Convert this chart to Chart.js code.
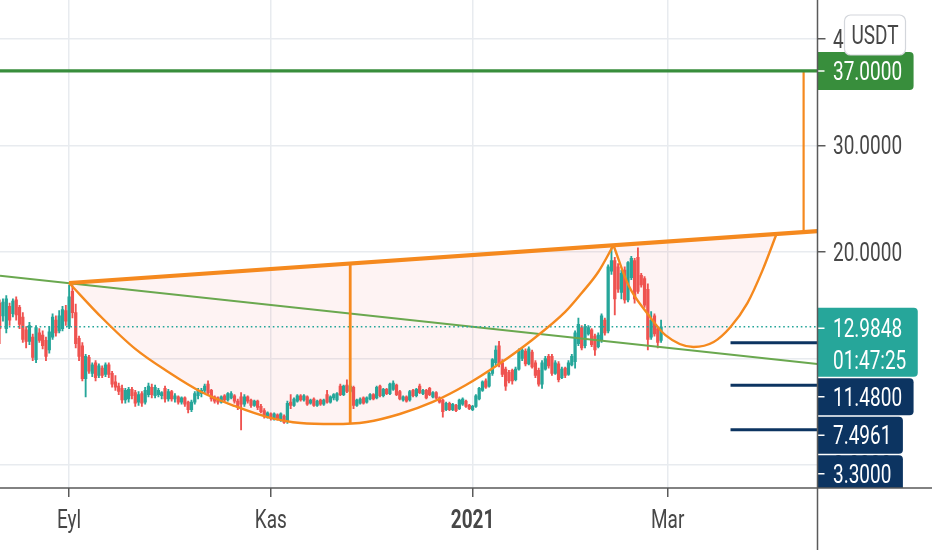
<!DOCTYPE html>
<html>
<head>
<meta charset="utf-8">
<title>Fincan kulp</title>
<script src="https://cdn.jsdelivr.net/npm/chart.js@4.4.1/dist/chart.umd.min.js"></script>
<style>
  html, body { margin: 0; padding: 0; background: #fff; }
  #wrap { position: relative; width: 932px; height: 550px; }
</style>
</head>
<body>
<div id="wrap"><canvas id="chart"></canvas></div>
<script>
// days are counted from 1 Sep 2020 (Eyl), one candle per day
const firstDay = -21;

const opens = [
  15.2,14.0,12.8,14.9,14.2,15.5,14.8,13.9,12.7,11.6,
  12.0,9.9,12.4,12.2,11.7,10.8,12.0,13.6,12.6,12.8,
  14.5,13.0,16.3,14.3,11.9,11.2,8.1,10.1,8.6,9.6,
  8.4,9.1,8.5,9.4,8.6,7.8,7.4,7.2,6.1,6.2,
  7.1,6.8,5.9,6.7,5.9,6.6,7.3,6.5,6.6,6.5,
  7.2,6.2,6.9,6.2,6.4,5.9,6.3,5.9,5.2,5.9,
  6.5,6.7,7.0,7.6,7.0,6.4,6.3,5.9,6.5,6.1,
  6.3,6.5,6.0,6.4,5.7,6.4,6.1,5.6,6.0,5.5,
  5.1,4.5,4.8,4.3,4.7,4.2,4.6,4.1,5.9,5.6,
  6.0,6.5,6.1,6.4,5.8,6.2,5.6,6.1,5.7,6.6,
  5.9,6.3,6.1,7.4,6.6,7.5,6.9,7.3,5.6,5.8,
  6.3,5.9,6.2,6.6,6.3,7.4,6.5,7.1,6.7,7.1,
  7.5,6.9,6.1,6.4,6.1,7.0,6.5,7.4,6.7,7.0,
  7.2,6.4,6.8,6.3,6.1,5.2,5.8,5.2,5.6,5.3,
  5.7,6.0,5.6,5.2,5.5,6.2,7.0,7.9,7.4,8.6,
  9.6,11.2,9.6,9.0,8.7,8.9,8.0,9.0,10.0,10.7,
  9.5,10.6,9.6,8.9,7.6,9.0,10.2,10.2,8.6,9.5,
  8.2,9.1,8.5,9.4,9.7,11.4,12.9,11.2,12.3,12.7,
  12.1,11.1,11.7,13.6,12.6,18.2,19.2,18.6,16.2,18.3,
  15.5,17.6,19.2,19.5,17.8,17.5,16.5,12.0,14.0,12.8,
  11.7
];
const highs = [
  15.5,15.6,15.9,15.2,15.6,15.8,15.0,14.3,13.0,13.4,
  12.3,13.1,12.8,12.6,12.0,13.0,14.2,14.0,14.5,14.9,
  15.0,16.9,16.9,15.1,12.1,11.5,10.4,10.3,9.6,9.8,
  9.5,9.3,9.6,9.6,8.8,8.4,7.7,7.5,7.2,7.3,
  7.3,7.0,6.9,6.9,7.3,7.7,7.6,7.5,7.2,6.9,
  7.4,7.1,7.0,6.7,6.5,6.4,6.4,6.0,6.1,6.9,
  7.2,7.2,7.6,7.9,7.1,6.5,6.4,6.5,6.6,6.8,
  6.9,6.6,6.2,6.8,6.6,6.5,6.2,6.1,6.1,5.7,
  5.3,5.0,4.9,4.9,4.8,4.9,4.7,6.0,6.6,6.3,
  6.6,6.6,6.6,6.5,6.2,6.3,6.1,6.2,6.2,7.0,
  6.5,6.7,6.8,7.6,7.5,8.0,7.6,7.4,6.2,6.3,
  6.4,6.4,6.7,6.7,7.4,7.5,7.2,7.2,7.7,7.9,
  7.6,7.0,6.5,6.5,7.0,7.1,7.2,7.6,7.1,7.1,
  7.3,6.9,6.9,6.4,6.2,5.9,5.9,5.8,5.7,6.2,
  6.3,6.1,5.7,5.6,6.6,7.3,7.9,8.1,8.7,10.0,
  11.2,11.6,9.9,9.2,8.9,9.0,9.2,10.9,11.0,10.9,
  11.1,10.8,9.8,9.1,9.8,10.2,10.4,10.4,9.8,9.7,
  9.2,9.2,9.8,10.4,12.6,13.8,13.1,13.2,13.1,12.8,
  12.3,12.4,14.2,13.8,18.8,20.4,19.5,18.9,18.3,18.6,
  19.1,19.6,19.4,20.4,18.0,17.7,17.0,14.4,14.2,13.0,
  13.6
];
const lows = [
  11.4,13.5,12.4,13.1,13.9,13.6,12.8,11.5,11.0,11.3,
  9.8,9.6,11.5,10.9,9.8,10.5,11.8,12.1,12.4,12.6,
  13.1,12.8,13.8,11.0,9.8,7.9,6.4,8.6,8.3,7.9,
  8.2,8.2,8.3,8.2,7.3,7.0,6.6,5.8,5.8,5.9,
  6.2,5.5,5.6,5.5,5.7,6.4,6.3,6.3,6.4,6.2,
  5.9,6.0,6.0,5.9,5.7,5.7,5.5,4.9,5.0,5.7,
  6.2,6.4,6.8,6.6,6.0,5.8,5.7,5.8,5.9,6.0,
  6.2,5.8,5.2,3.3,5.5,5.8,5.4,5.5,5.2,4.9,
  4.4,4.4,4.2,4.2,4.2,4.1,3.9,3.9,5.3,5.5,
  5.9,6.0,6.0,5.6,5.7,5.5,5.5,5.6,5.6,5.8,
  5.8,6.1,6.0,6.5,6.5,6.8,6.8,5.3,5.5,5.7,
  5.7,5.8,6.1,6.1,6.2,6.4,6.4,6.6,6.6,7.0,
  6.5,6.1,6.0,5.9,6.0,6.4,6.4,6.7,6.6,6.2,
  6.5,6.3,6.2,5.8,4.5,5.1,5.1,5.1,5.0,5.2,
  5.6,5.4,5.2,5.1,5.4,6.1,6.9,7.2,7.3,8.4,
  9.4,9.2,8.3,7.0,7.7,7.6,7.9,8.9,9.8,9.3,
  9.4,9.1,8.2,7.4,7.2,8.9,9.1,8.4,8.5,7.8,
  8.1,8.2,8.4,9.3,9.1,11.2,10.8,11.0,12.2,11.1,
  10.3,11.0,11.5,12.2,12.4,17.9,14.1,16.2,15.6,15.2,
  15.3,17.4,15.2,16.1,16.7,14.8,10.8,11.8,12.1,11.0,
  11.5
];
const closes = [
  12.8,15.3,15.6,13.6,15.4,14.1,13.2,11.8,11.6,13.1,
  10.1,12.9,11.7,11.2,10.2,12.5,13.9,12.4,14.0,14.6,
  13.5,15.8,14.3,11.4,10.2,8.1,10.2,8.8,9.4,8.2,
  9.3,8.4,9.4,8.5,7.6,7.3,6.9,6.1,7.0,7.1,
  6.5,5.8,6.6,5.8,7.0,7.4,6.6,7.3,7.0,6.8,
  6.2,6.9,6.2,6.5,5.9,6.3,5.7,5.2,5.9,6.7,
  7.0,7.0,7.4,6.8,6.2,6.0,5.9,6.4,6.1,6.7,
  6.7,6.0,5.4,5.7,6.4,6.0,5.6,6.0,5.4,5.0,
  4.6,4.9,4.4,4.8,4.3,4.8,4.0,5.8,5.6,6.2,
  6.5,6.1,6.5,5.7,6.1,5.6,6.0,5.7,6.1,5.9,
  6.4,6.6,6.7,6.6,7.4,6.9,7.4,5.6,6.1,6.2,
  5.8,6.3,6.6,6.2,7.3,6.5,7.1,6.7,7.6,7.7,
  6.6,6.2,6.4,6.0,6.9,6.5,7.1,6.8,7.0,6.3,
  6.6,6.8,6.3,5.9,5.0,5.8,5.2,5.7,5.1,6.1,
  6.2,5.5,5.3,5.5,6.5,7.2,7.8,7.3,8.6,9.9,
  10.8,9.5,8.5,7.4,7.9,7.9,9.0,10.7,10.8,9.5,
  10.9,9.2,8.4,7.6,9.6,10.0,9.3,8.6,9.6,8.0,
  9.0,8.4,9.6,10.2,12.4,13.2,11.0,13.0,12.9,11.3,
  10.8,12.2,14.0,12.4,18.6,19.2,15.6,16.5,18.0,15.5,
  19.0,19.4,15.6,16.3,16.9,15.0,11.8,13.6,12.3,11.5,
  12.98
];

// axes
const xMin = -20.9, xMax = 226.3;
const yMin = -2.16, yMax = 43.66;
const yTicks = [0, 10, 20, 30, 40];
const monthDays = [0, 61, 122, 181];
const monthLabels = ['Eyl', 'Kas', '2021', 'Mar'];

// drawings
const rimDays = [0, 226.3];
const rimValues = [17.09, 21.95];
const trendDays = [-20.9, 226.3];
const trendValues = [17.76, 9.48];
const cupDays = [0, 10, 20, 30, 40, 50, 60, 70, 80, 90, 100, 110, 120, 130, 140, 150, 155, 160, 164.6];
const cupValues = [17.09, 13.8, 10.9, 8.73, 6.85, 5.54, 4.5, 3.94, 3.85, 4.04, 4.79, 5.92, 7.51, 9.48, 11.74, 14.37, 16.15, 18.12, 20.63];
const handleDays = [164.6, 169.1, 175.2, 180.3, 188.8, 194.9, 200, 205.1, 209.7, 213.9];
const handleValues = [20.63, 16.9, 14.08, 12.2, 11.08, 11.55, 12.96, 15.2, 18.3, 21.69];
const depthDays = [85, 85];
const depthValues = [18.92, 3.88];
const moveDays = [222.1, 222.1];
const moveValues = [37, 21.86];
const targetPrice = 37;
const lastPrice = 12.9848;
const countdown = '01:47:25';
const levelDays = [200, 226.3];
const levels = [11.48, 7.4961, 3.3];

const UP = '#26a69a', DOWN = '#ef5350', ORANGE = '#f5891e', NAVY = '#0c3461', GREEN = '#388e3c';
const TEXT = '#474747';

function pts(days, values) {
  return days.map((d, i) => ({ x: d, y: values[i] }));
}
function xMinMax() { return [xMin, xMax]; }

const candleColors = opens.map((o, i) => closes[i] >= o ? UP : DOWN);
const wickData = lows.map((l, i) => ({ x: firstDay + i, y: [l, highs[i]] }));
const bodyData = opens.map((o, i) => ({ x: firstDay + i, y: [o, closes[i]] }));

function lineSet(data, color, width, order, extra) {
  return Object.assign({
    type: 'line', data: data, borderColor: color, borderWidth: width,
    pointRadius: 0, fill: false, tension: 0, order: order, clip: 0, borderCapStyle: 'butt'
  }, extra || {});
}

const datasets = [
  { type: 'bar', data: wickData, backgroundColor: candleColors, barThickness: 1.2, grouped: false, order: 21, clip: 0 },
  { type: 'bar', data: bodyData, backgroundColor: candleColors, barThickness: 2.6, minBarLength: 1, grouped: false, order: 20, clip: 0 },
  lineSet(pts(trendDays, trendValues), '#6aa84f', 2, 8),
  lineSet(pts(xMinMax(), [lastPrice, lastPrice]), UP, 1.6, 7, { borderDash: [1.6, 2.8] }),
  lineSet(pts(cupDays, cupValues), ORANGE, 2.4, 6, { cubicInterpolationMode: 'monotone' }),
  lineSet(pts(handleDays, handleValues), ORANGE, 2.4, 6, { cubicInterpolationMode: 'monotone' }),
  lineSet(pts(depthDays, depthValues), ORANGE, 2.8, 5),
  lineSet(pts(moveDays, moveValues), ORANGE, 2.2, 5),
  lineSet(pts(rimDays, rimValues), ORANGE, 4.2, 4),
  lineSet(pts(xMinMax(), [targetPrice, targetPrice]), GREEN, 3.2, 3)
];
levels.forEach(v => datasets.push(lineSet(pts(levelDays, [v, v]), NAVY, 3, 2)));

const CUP = 4, HANDLE = 5;

// light pink area between rim and the two arcs
const arcFill = {
  id: 'arcFill',
  beforeDatasetsDraw(chart) {
    const ctx = chart.ctx, a = chart.chartArea;
    ctx.save();
    ctx.beginPath();
    ctx.rect(a.left, a.top, a.right - a.left, a.bottom - a.top);
    ctx.clip();
    ctx.fillStyle = 'rgba(242, 80, 80, 0.065)';
    [CUP, HANDLE].forEach(i => {
      const line = chart.getDatasetMeta(i).dataset;
      const p = line.points;
      ctx.beginPath();
      if (typeof line.path === 'function') {
        line.path(ctx);
      } else {
        p.forEach((q, k) => k ? ctx.lineTo(q.x, q.y) : ctx.moveTo(q.x, q.y));
      }
      ctx.lineTo(p[0].x, p[0].y);
      ctx.closePath();
      ctx.fill();
    });
    ctx.restore();
  }
};

const SQUEEZE = 0.76;
function drawText(ctx, text, x, yc, color, align, weight) {
  ctx.save();
  ctx.font = (weight || 'normal') + ' 25px Roboto';
  ctx.fillStyle = color;
  ctx.textBaseline = 'alphabetic';
  ctx.textAlign = align || 'left';
  ctx.translate(x, yc + 9);
  ctx.scale(SQUEEZE, 1);
  ctx.fillText(text, 0, 0);
  ctx.restore();
}
function textWidth(ctx, text) {
  ctx.save();
  ctx.font = 'normal 25px Roboto';
  const w = ctx.measureText(text).width * SQUEEZE;
  ctx.restore();
  return w;
}

const axisLabels = {
  id: 'axisLabels',
  afterDraw(chart) {
    const ctx = chart.ctx;
    const xs = chart.scales.x, ys = chart.scales.y;
    const right = chart.chartArea.right, bottom = chart.chartArea.bottom;
    const W = chart.width, H = chart.height;
    const tx = right + 15.5;

    ys.ticks.forEach(t => drawText(ctx, t.value.toFixed(4), tx, ys.getPixelForValue(t.value), TEXT));
    xs.ticks.forEach((t, i) => drawText(ctx, monthLabels[i], xs.getPixelForValue(t.value), bottom + 31, TEXT, 'center', monthLabels[i] === '2021' ? 'bold' : 'normal'));

    ctx.save();
    ctx.beginPath();
    ctx.rect(right, 0, W - right, bottom);
    ctx.clip();

    function box(top, h, w, color) {
      ctx.fillStyle = color;
      ctx.beginPath();
      ctx.roundRect(right, top, w, h, [0, 4, 4, 0]);
      ctx.fill();
    }
    function rowTick(yc) {
      ctx.strokeStyle = '#ffffff';
      ctx.lineWidth = 1.5;
      ctx.beginPath();
      ctx.moveTo(right, yc);
      ctx.lineTo(right + 7, yc);
      ctx.stroke();
    }

    // target price
    const yc = ys.getPixelForValue(targetPrice);
    const label = targetPrice.toFixed(4);
    box(yc - 19, 38, textWidth(ctx, label) + 27, GREEN);
    rowTick(yc);
    drawText(ctx, label, tx, yc, '#ffffff');

    // last price with countdown
    const lp = lastPrice.toFixed(4);
    const top = ys.getPixelForValue(lastPrice) - 19;
    box(top, 69, Math.max(textWidth(ctx, lp), textWidth(ctx, countdown)) + 27, UP);
    rowTick(top + 20.5);
    drawText(ctx, lp, tx, top + 20.5, '#ffffff');
    drawText(ctx, countdown, tx, top + 52.5, '#ffffff');
    let prevBottom = top + 69;

    // horizontal levels, pushed down when they collide
    levels.forEach(v => {
      const s = v.toFixed(4);
      const t = Math.max(ys.getPixelForValue(v) - 18.5, prevBottom + 1.5);
      box(t, 37, textWidth(ctx, s) + 27, NAVY);
      rowTick(t + 18.5);
      drawText(ctx, s, tx, t + 18.5, '#ffffff');
      prevBottom = t + 37;
    });
    ctx.restore();

    // currency badge
    ctx.save();
    ctx.fillStyle = '#ffffff';
    ctx.strokeStyle = '#d3d6db';
    ctx.lineWidth = 1.2;
    ctx.beginPath();
    ctx.roundRect(right + 27, 15, 61, 40, 6);
    ctx.fill();
    ctx.stroke();
    ctx.restore();
    drawText(ctx, 'USDT', right + 57.5, 35, TEXT, 'center');

    // axis lines run across the whole frame
    ctx.save();
    ctx.strokeStyle = '#5a5a5a';
    ctx.lineWidth = 1.5;
    ctx.beginPath();
    ctx.moveTo(0, bottom);
    ctx.lineTo(W, bottom);
    ctx.moveTo(right, 0);
    ctx.lineTo(right, H);
    ctx.stroke();
    ctx.restore();
  }
};

Chart.defaults.font.family = 'Roboto';

new Chart(document.getElementById('chart'), {
  type: 'bar',
  data: { datasets: datasets },
  options: {
    responsive: true,
    maintainAspectRatio: false,
    animation: false,
    events: [],
    layout: { padding: 0 },
    plugins: { legend: { display: false }, tooltip: { enabled: false } },
    scales: {
      x: {
        type: 'linear',
        min: xMin,
        max: xMax,
        offset: false,
        afterBuildTicks: (scale) => { scale.ticks = monthDays.map(v => ({ value: v })); },
        afterFit: (scale) => { scale.height = 62; },
        ticks: { display: false },
        grid: { color: '#e8ebef', lineWidth: 1.5, offset: false, tickLength: 9, tickColor: '#5a5a5a', tickWidth: 1.5 },
        border: { display: false }
      },
      y: {
        type: 'linear',
        position: 'right',
        min: yMin,
        max: yMax,
        afterBuildTicks: (scale) => { scale.ticks = yTicks.map(v => ({ value: v })); },
        afterFit: (scale) => { scale.width = 114.5; },
        ticks: { display: false },
        grid: { color: '#e8ebef', lineWidth: 1.5, tickLength: 8, tickColor: '#5a5a5a', tickWidth: 1.5 },
        border: { display: false }
      }
    }
  },
  plugins: [arcFill, axisLabels]
});
</script>
</body>
</html>
